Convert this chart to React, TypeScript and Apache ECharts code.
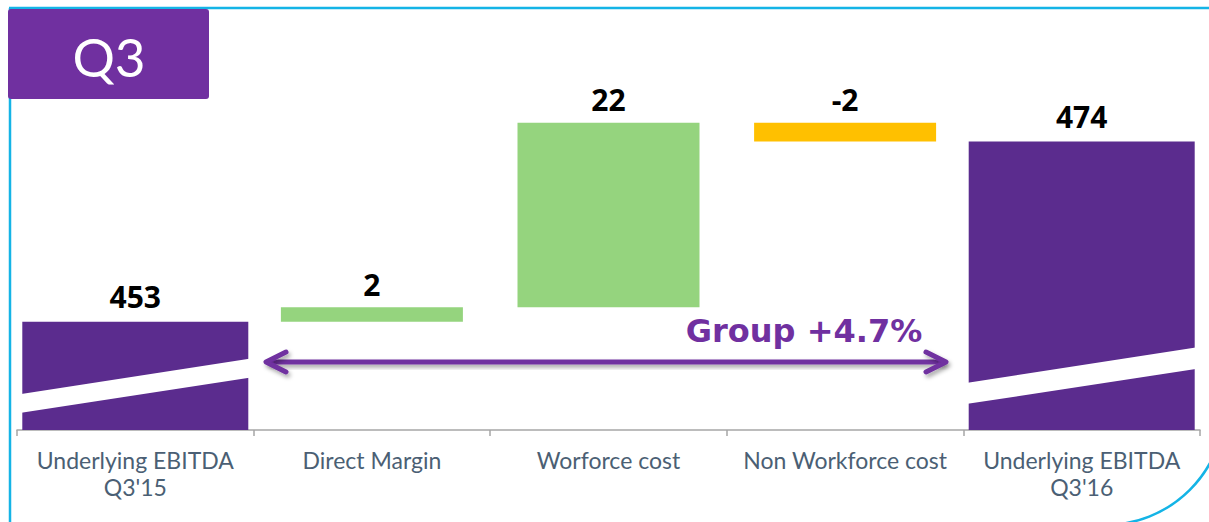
import React, { useEffect, useRef } from "react";
import * as echarts from "echarts";

const categories = [
  "Underlying EBITDA\nQ3'15",
  "Direct Margin",
  "Worforce cost",
  "Non Workforce cost",
  "Underlying EBITDA\nQ3'16",
];
const totals: (number | null)[] = [453, null, null, null, 474];
const deltas: (number | null)[] = [null, 1.7, 21.5, -2.2, null];
const titleText = "Q3";
const growthText = "Group +4.7%";
// axis-break bands: [category index, left low, left high, right low, right high]
const breakBands = [
  [0, 442.4, 444.6, 446.5, 448.7],
  [4, 443.45, 445.9, 447.5, 450.0],
];
const yMin = 440.4;
const yMax = 487.0;

const PURPLE = "#5B2C8E";
const GREEN = "#95D47E";
const YELLOW = "#FFC000";
const VIOLET = "#7030A0";
const CYAN = "#14B4E6";

const shadow = {
  shadowColor: "rgba(0,0,0,0.35)",
  shadowBlur: 4,
  shadowOffsetX: 2,
  shadowOffsetY: 3,
};

export default function App() {
  const ref = useRef<HTMLDivElement>(null);
  useEffect(() => {
    if (!ref.current) return;
    const chart = echarts.init(ref.current, null, { renderer: "svg" });

    const base: (number | string)[] = [];
    const up: (number | string)[] = [];
    const down: (number | string)[] = [];
    let running = 0;
    for (let i = 0; i < categories.length; i++) {
      const t = totals[i];
      const d = deltas[i];
      if (t != null) {
        running = t;
        base.push("-");
        up.push("-");
        down.push("-");
      } else if (d != null) {
        if (d >= 0) {
          base.push(running);
          up.push(d);
          down.push("-");
        } else {
          base.push(running + d);
          up.push("-");
          down.push(-d);
        }
        running += d;
      }
    }

    const valueLabel = {
      show: true,
      position: "top" as const,
      distance: 8,
      color: "#000",
      fontSize: 30,
      fontWeight: "bold" as const,
      fontFamily: "Open Sans",
    };

    chart.setOption({
      animation: false,
      grid: { left: 17, right: 9, top: 30, bottom: 92 },
      xAxis: [
        {
          type: "category",
          data: categories,
          axisLine: { lineStyle: { color: "#A6A6A6", width: 1.5 } },
          axisTick: { show: true, length: 6, lineStyle: { color: "#A6A6A6", width: 1.5 } },
          axisLabel: {
            interval: 0,
            color: "#4B5F74",
            fontSize: 23,
            fontFamily: "Lato",
            lineHeight: 27.5,
            margin: 16,
          },
        },
        { type: "category", data: categories, show: false },
      ],
      yAxis: { type: "value", min: yMin, max: yMax, show: false },
      series: [
        {
          type: "bar",
          xAxisIndex: 0,
          data: totals.map((v) => (v == null ? "-" : v)),
          barWidth: 226,
          itemStyle: { color: PURPLE },
          label: { ...valueLabel, distance: 10, formatter: (p: any) => String(p.value) },
          z: 2,
        },
        {
          type: "bar",
          xAxisIndex: 1,
          stack: "w",
          data: base,
          barWidth: 182,
          itemStyle: { color: "transparent" },
          silent: true,
          z: 2,
        },
        {
          type: "bar",
          xAxisIndex: 1,
          stack: "w",
          data: up,
          barWidth: 182,
          itemStyle: { color: GREEN },
          label: {
            ...valueLabel,
            formatter: (p: any) => String(Math.round(deltas[p.dataIndex] as number)),
          },
          z: 2,
        },
        {
          type: "bar",
          xAxisIndex: 1,
          stack: "w",
          data: down,
          barWidth: 182,
          itemStyle: { color: YELLOW },
          label: {
            ...valueLabel,
            formatter: (p: any) => String(Math.round(deltas[p.dataIndex] as number)),
          },
          z: 2,
        },
        {
          type: "custom",
          xAxisIndex: 0,
          data: breakBands,
          encode: { x: 0, y: 1 },
          z: 10,
          silent: true,
          renderItem: (params: any, api: any) => {
            const idx = api.value(0);
            const halfW = 226 / 2 + 1;
            const cx = api.coord([idx, yMin])[0];
            const ylb = api.coord([idx, api.value(1)])[1];
            const ylt = api.coord([idx, api.value(2)])[1];
            const yrb = api.coord([idx, api.value(3)])[1];
            const yrt = api.coord([idx, api.value(4)])[1];
            return {
              type: "polygon",
              shape: {
                points: [
                  [cx - halfW, ylb],
                  [cx - halfW, ylt],
                  [cx + halfW, yrt],
                  [cx + halfW, yrb],
                ],
              },
              style: { fill: "#FFFFFF" },
            };
          },
        },
      ],
      graphic: [
        {
          type: "line",
          shape: { x1: 9, y1: 8, x2: 1209, y2: 8 },
          style: { stroke: CYAN, lineWidth: 2.5 },
          z: 50,
        },
        {
          type: "line",
          shape: { x1: 10, y1: 8, x2: 10, y2: 522 },
          style: { stroke: CYAN, lineWidth: 2.5 },
          z: 50,
        },
        {
          type: "arc",
          shape: { cx: 1105, cy: 405, r: 120, startAngle: 0, endAngle: Math.PI / 2, clockwise: true },
          style: { stroke: CYAN, lineWidth: 2.5, fill: "none" },
          z: 50,
        },
        {
          type: "rect",
          shape: { x: 8, y: 9, width: 201, height: 90, r: 3 },
          style: { fill: VIOLET },
          z: 100,
        },
        {
          type: "text",
          x: 109,
          y: 56,
          style: {
            text: titleText,
            fill: "#FFFFFF",
            fontSize: 53,
            fontFamily: "Lato",
            fontWeight: "normal",
            align: "center",
            verticalAlign: "middle",
          },
          z: 101,
        },
        {
          type: "text",
          x: 804,
          y: 331,
          style: {
            text: growthText,
            fill: VIOLET,
            fontSize: 32,
            fontFamily: "DejaVu Sans",
            fontWeight: "bold",
            align: "center",
            verticalAlign: "middle",
          },
          z: 60,
        },
        {
          type: "rect",
          shape: { x: 268, y: 359.5, width: 676, height: 5 },
          style: { fill: VIOLET, ...shadow },
          z: 60,
        },
        {
          type: "polyline",
          shape: { points: [[286, 352], [266, 362], [286, 372]] },
          style: {
            stroke: VIOLET,
            lineWidth: 5,
            lineCap: "round",
            lineJoin: "round",
            fill: "none",
            ...shadow,
          },
          z: 60,
        },
        {
          type: "polyline",
          shape: { points: [[926, 352], [946, 362], [926, 372]] },
          style: {
            stroke: VIOLET,
            lineWidth: 5,
            lineCap: "round",
            lineJoin: "round",
            fill: "none",
            ...shadow,
          },
          z: 60,
        },
      ],
    });
    return () => chart.dispose();
  }, []);
  return (
    <div
      ref={ref}
      style={{ position: "absolute", left: 0, top: 0, width: 1209, height: 522, background: "#fff" }}
    />
  );
}
